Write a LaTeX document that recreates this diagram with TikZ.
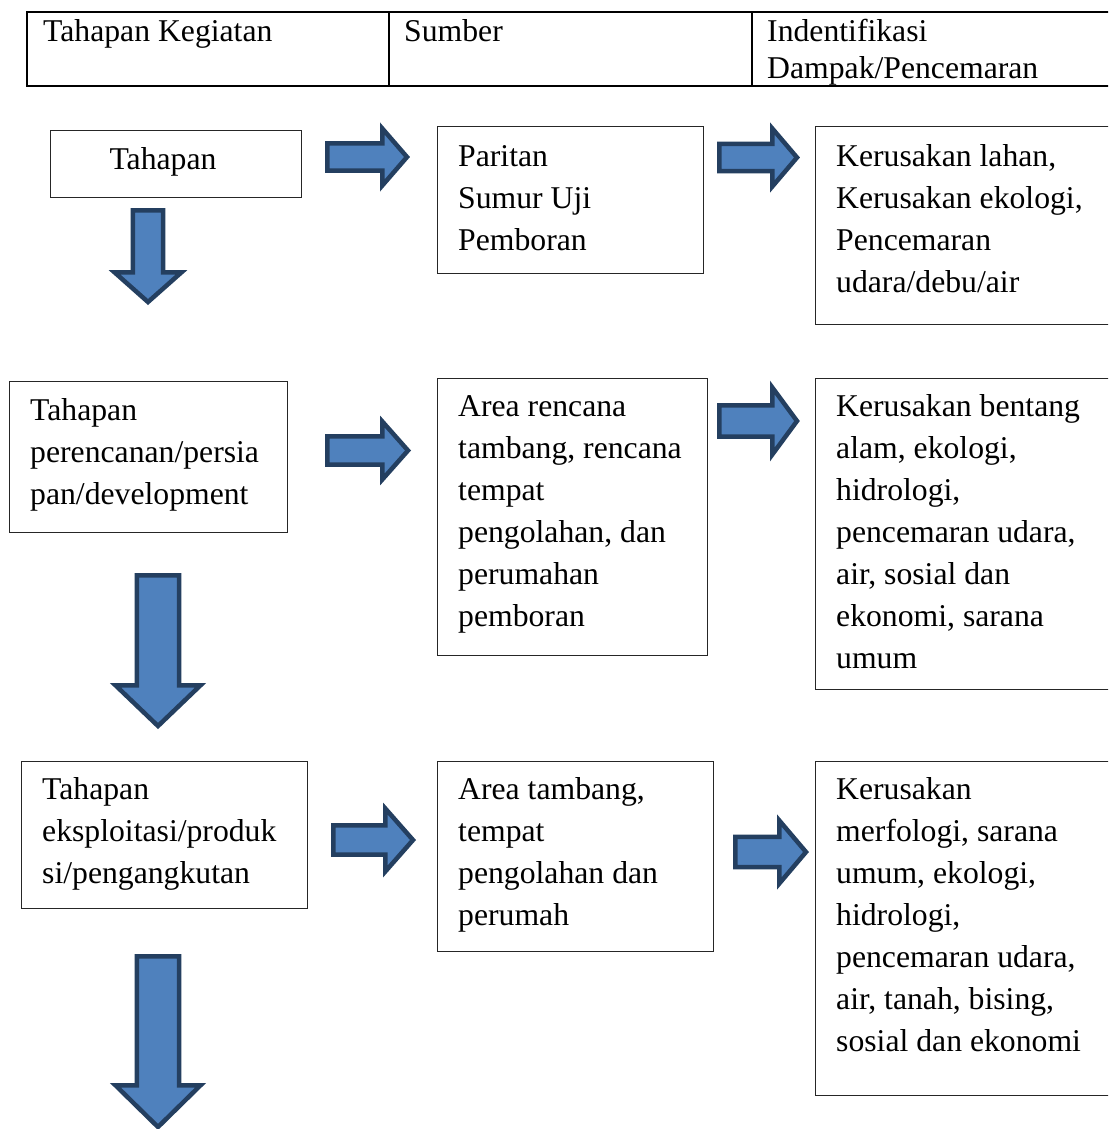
\documentclass[tikz,border=0pt]{standalone}
\usepackage{fontspec}
\setmainfont{Liberation Serif}
\definecolor{arrowfill}{HTML}{4F81BD}
\definecolor{arrowline}{HTML}{243F60}
\newcommand{\rblock}[6]{% left, right, center y, half head, half shaft, head start x
  \draw[blockarrow] ({#1+2.3},{#3-#5+2.3}) -- ({#6+2.3},{#3-#5+2.3}) -- ({#6+2.3},{#3-#4+3.5}) -- ({#2-5},#3) -- ({#6+2.3},{#3+#4-3.5}) -- ({#6+2.3},{#3+#5-2.3}) -- ({#1+2.3},{#3+#5-2.3}) -- cycle;}
\newcommand{\dblock}[6]{% center x, top, tip, head start y, half head, half shaft
  \draw[blockarrow] ({#1-#6+2.3},{#2+2.3}) -- ({#1+#6-2.3},{#2+2.3}) -- ({#1+#6-2.3},{#4+2.3}) -- ({#1+#5-3.5},{#4+2.3}) -- (#1,{#3-4}) -- ({#1-#5+3.5},{#4+2.3}) -- ({#1-#6+2.3},{#4+2.3}) -- cycle;}
\begin{document}
\begin{tikzpicture}[x=1pt,y=-1pt,
  box/.style={draw=black!85, line width=1.3pt, anchor=north west, inner sep=0pt},
  txt/.style={font=\fontsize{31.7}{42}\selectfont, align=left, inner sep=0pt, anchor=north west},
  hdr/.style={font=\fontsize{31.7}{37}\selectfont, align=left, inner sep=0pt, anchor=north west},
  blockarrow/.style={fill=arrowfill, draw=arrowline, line width=4.5pt, line join=miter},
  tblouter/.style={line width=2.8pt, draw=black},
  tblinner/.style={line width=1.5pt, draw=black}]
\useasboundingbox (0,0) rectangle (1108,1129);
\clip (0,0) rectangle (1108,1129);
\fill[white] (0,0) rectangle (1108,1129);
% header table
\draw[tblouter] (1120,12) -- (27,12) -- (27,86) -- (1120,86);
\draw[tblinner] (389,12) -- (389,86);
\draw[tblinner] (752,12) -- (752,86);
\node[hdr] (h1) at (43,15.1) {\strut Tahapan Kegiatan};
\node[hdr] (h2) at (404,15.1) {\strut Sumber};
\node[hdr] (h3) at (767,15.1) {\strut Indentifikasi\\Dampak/Pencemaran};
% boxes
\node[box, minimum width=251pt, minimum height=67pt] (b1) at (50,130) {};
\node[box, minimum width=266pt, minimum height=147pt] (s1) at (437,126) {};
\node[box, minimum width=320pt, minimum height=198pt] (d1) at (815,126) {};
\node[box, minimum width=278pt, minimum height=151pt] (b2) at (9,381) {};
\node[box, minimum width=270pt, minimum height=277pt] (s2) at (437,378) {};
\node[box, minimum width=320pt, minimum height=311pt] (d2) at (815,378) {};
\node[box, minimum width=286pt, minimum height=147pt] (b3) at (21,761) {};
\node[box, minimum width=276pt, minimum height=190pt] (s3) at (437,761) {};
\node[box, minimum width=320pt, minimum height=334pt] (d3) at (815,761) {};
% texts
\node[txt, anchor=base] (t1) at (163,169) {Tahapan};
\node[txt] (t2) at (458,136.6) {\strut Paritan\\Sumur Uji\\Pemboran};
\node[txt] (t3) at (836,136.6) {\strut Kerusakan lahan,\\Kerusakan ekologi,\\Pencemaran\\udara/debu/air};
\node[txt] (t4) at (30,390.6) {\strut Tahapan\\perencanan/persia\\pan/development};
\node[txt] (t5) at (458,386.6) {\strut Area rencana\\tambang, rencana\\tempat\\pengolahan, dan\\perumahan\\pemboran};
\node[txt] (t6) at (836,386.6) {\strut Kerusakan bentang\\alam, ekologi,\\hidrologi,\\pencemaran udara,\\air, sosial dan\\ekonomi, sarana\\umum};
\node[txt] (t7) at (42,769.6) {\strut Tahapan\\eksploitasi/produk\\si/pengangkutan};
\node[txt] (t8) at (458,769.6) {\strut Area tambang,\\tempat\\pengolahan dan\\perumah};
\node[txt] (t9) at (836,769.6) {\strut Kerusakan\\merfologi, sarana\\umum, ekologi,\\hidrologi,\\pencemaran udara,\\air, tanah, bising,\\sosial dan ekonomi};
% block arrows
\rblock{325}{412}{157}{32}{16}{380}
\rblock{717}{802}{157.5}{32.5}{16}{770}
\rblock{325}{413}{450.5}{32.5}{16.5}{380}
\rblock{717}{802}{421}{37}{18}{770}
\rblock{331}{418}{840}{35}{17}{383}
\rblock{733}{811}{852}{35}{17.5}{777}
\dblock{148}{208}{306}{270}{37}{17.5}
\dblock{158}{573}{730}{683}{46}{23.5}
\dblock{158}{954}{1131}{1083}{46}{23.5}
\end{tikzpicture}
\end{document}
